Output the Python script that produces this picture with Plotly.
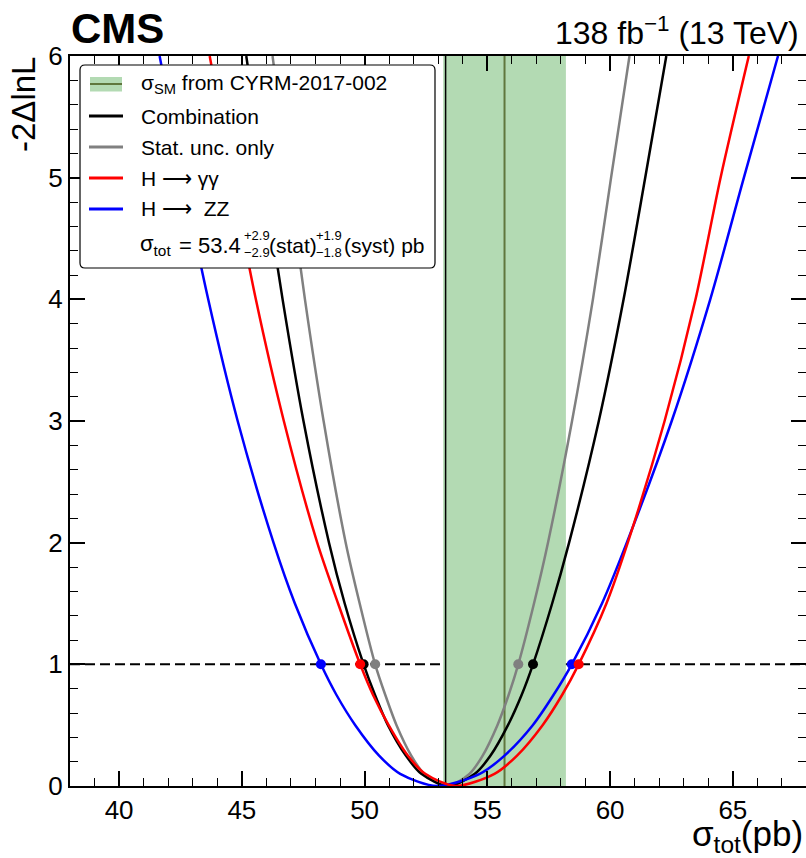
import plotly.graph_objects as go

# ---------------- data ----------------
# -2 Delta lnL levels at which the curve positions were read (left branch, minimum, right branch)
y_levels = [6, 5, 4, 3, 2, 1.5, 1, 0.75, 0.5, 0.25, 0.1, 0,
            0.1, 0.25, 0.5, 0.75, 1, 1.5, 2, 3, 4, 5, 6]

comb_x = [45.18, 45.90, 46.66, 47.51, 48.55, 49.19, 49.96, 50.42, 50.95, 51.68, 52.31, 53.40,
          54.49, 55.13, 55.84, 56.40, 56.86, 57.64, 58.33, 59.54, 60.55, 61.43, 62.29]
stat_x = [46.25, 46.90, 47.57, 48.33, 49.23, 49.80, 50.43, 50.84, 51.30, 51.90, 52.43, 53.35,
          54.27, 54.81, 55.41, 55.87, 56.26, 56.90, 57.47, 58.45, 59.30, 60.04, 60.79]
gg_x   = [43.69, 44.60, 45.57, 46.71, 48.07, 48.92, 49.82, 50.34, 50.98, 51.76, 52.47, 53.70,
          55.29, 56.21, 57.25, 58.05, 58.72, 59.85, 60.72, 62.22, 63.48, 64.50, 65.65]
zz_x   = [41.65, 42.60, 43.63, 44.83, 46.29, 47.16, 48.22, 48.85, 49.62, 50.59, 51.45, 52.95,
          54.69, 55.70, 56.85, 57.70, 58.44, 59.67, 60.68, 62.51, 64.08, 65.45, 66.84]

# 1-sigma crossing level and SM prediction
cross_level = 1
best_fit = 53.3
sm_center = 55.7
sm_lo = 53.2
sm_hi = 58.2

x_range = [38, 67.98]
y_range = [0, 6]

# ---------------- layout geometry (pixels) ----------------
W, H = 806, 858
L, R, T, B = 70, 0, 56, 72
PW, PH = W - L - R, H - T - B

def px(x):
    return (x - L) / PW

def py(y):
    return (H - B - y) / PH

FONT = "Liberation Sans, Arial, Helvetica, sans-serif"

fig = go.Figure()

series = [
    ("Stat. unc. only", stat_x, "#808080"),
    ("Combination", comb_x, "#000000"),
    ("H \u27f6 ZZ", zz_x, "#0000ff"),
    ("H \u27f6 \u03b3\u03b3", gg_x, "#ff0000"),
]

for name, xs, col in series:
    fig.add_trace(go.Scatter(
        x=xs, y=y_levels, mode="lines", line=dict(color=col, width=2.5, shape="spline", smoothing=0.8),
        showlegend=False, hoverinfo="skip"))
    dots_x = [xv for xv, yv in zip(xs, y_levels) if yv == cross_level]
    fig.add_trace(go.Scatter(
        x=dots_x, y=[cross_level] * len(dots_x), mode="markers",
        marker=dict(color=col, size=10), showlegend=False, hoverinfo="skip"))

# invisible trace so the right-hand tick axis is drawn
fig.add_trace(go.Scatter(x=[x_range[0]], y=[y_range[0]], yaxis="y2", mode="markers",
                         marker=dict(opacity=0), showlegend=False, hoverinfo="skip"))

shapes = []
# SM band
shapes.append(dict(type="rect", xref="x", yref="y", x0=sm_lo, x1=sm_hi, y0=y_range[0], y1=y_range[1],
                   fillcolor="#b3dab3", line=dict(width=0), layer="below"))
shapes.append(dict(type="line", xref="x", yref="y", x0=sm_center, x1=sm_center, y0=y_range[0], y1=y_range[1],
                   line=dict(color="#5f773d", width=2), layer="below"))
shapes.append(dict(type="line", xref="x", yref="y", x0=best_fit, x1=best_fit, y0=y_range[0], y1=y_range[1],
                   line=dict(color="black", width=1.5), layer="below"))
shapes.append(dict(type="line", xref="paper", yref="y", x0=0, x1=1, y0=cross_level, y1=cross_level,
                   line=dict(color="black", width=2, dash="10px,5px"), layer="below"))

# Legend box (rounded)
x0, x1, y0, y1, r = 80, 435, 65, 268, 5
def P(x, y):
    return f"{px(x):.5f},{py(y):.5f}"
path = (f"M {P(x0+r, y0)} L {P(x1-r, y0)} Q {P(x1, y0)} {P(x1, y0+r)} "
        f"L {P(x1, y1-r)} Q {P(x1, y1)} {P(x1-r, y1)} L {P(x0+r, y1)} "
        f"Q {P(x0, y1)} {P(x0, y1-r)} L {P(x0, y0+r)} Q {P(x0, y0)} {P(x0+r, y0)} Z")
shapes.append(dict(type="path", xref="paper", yref="paper", path=path, fillcolor="white",
                   line=dict(color="black", width=1.2), layer="above"))

rows = [84, 116, 147, 178, 209, 245]
# legend symbols
shapes.append(dict(type="rect", xref="paper", yref="paper", x0=px(90), x1=px(122), y0=py(91.5), y1=py(77),
                   fillcolor="#b3dab3", line=dict(width=0), layer="above"))
shapes.append(dict(type="line", xref="paper", yref="paper", x0=px(90), x1=px(122), y0=py(84), y1=py(84),
                   line=dict(color="#5f773d", width=2), layer="above"))
leg_items = [("Combination", "#000000"), ("Stat. unc. only", "#808080"),
             ("H \u27f6 \u03b3\u03b3", "#ff0000"), ("H \u27f6  ZZ", "#0000ff")]
for (txt, col), yy in zip(leg_items, rows[1:5]):
    shapes.append(dict(type="line", xref="paper", yref="paper", x0=px(89), x1=px(123), y0=py(yy), y1=py(yy),
                       line=dict(color=col, width=3), layer="above"))

ann = []
def text(x, y, s, size, xanchor="left", yanchor="middle", bold=False, angle=0):
    ann.append(dict(x=px(x), y=py(y), xref="paper", yref="paper", text=(f"<b>{s}</b>" if bold else s),
                    showarrow=False, xanchor=xanchor, yanchor=yanchor, textangle=angle,
                    font=dict(family=FONT, size=size, color="black"), borderpad=0))

text(140, rows[0], "\u03c3<sub>SM</sub> from CYRM-2017-002", 21)
for (txt, col), yy in zip(leg_items, rows[1:5]):
    text(140, yy, txt, 21)
# sigma_tot line with stacked scripts
text(139, rows[5], "\u03c3<sub>tot</sub>", 22)
text(242, rows[5], "= 53.4", 22, xanchor="right")
text(243, 235, "+2.9", 13)
text(243, 253, "\u22122.9", 13)
text(268, rows[5], "(stat)", 21)
text(315, 235, "+1.9", 13)
text(315, 253, "\u22121.8", 13)
text(343, rows[5], "(syst) pb", 21)

# titles
text(70, 29, "CMS", 42, bold=True)
text(800, 31, "138 fb<sup>\u22121</sup> (13 TeV)", 32, xanchor="right")
text(804, 836, "\u03c3<sub>tot</sub>(pb)", 35, xanchor="right")
text(4, 56, "-2\u0394lnL", 33, yanchor="top", angle=-90)

tick_common = dict(showgrid=False, zeroline=False, ticks="inside", ticklen=15, tickwidth=1.5,
                   tickcolor="black", tickfont=dict(size=26, family=FONT))

fig.update_layout(
    width=W, height=H, margin=dict(l=L, r=R, t=T, b=B, pad=0),
    plot_bgcolor="white", paper_bgcolor="white",
    shapes=shapes, annotations=ann, showlegend=False,
    font=dict(family=FONT, color="black"),
    xaxis=dict(range=x_range, showline=True, linecolor="black", linewidth=2, mirror="ticks",
               tick0=40, dtick=5,
               minor=dict(ticks="inside", ticklen=8, dtick=1, tickwidth=1.2, tickcolor="black", showgrid=False),
               **tick_common),
    yaxis=dict(range=y_range, showline=True, linecolor="black", linewidth=2, mirror=False,
               tick0=0, dtick=1,
               minor=dict(ticks="inside", ticklen=8, dtick=0.2, tickwidth=1.2, tickcolor="black", showgrid=False),
               **tick_common),
    yaxis2=dict(range=y_range, overlaying="y", side="right", showline=False, showticklabels=False,
                tick0=0, dtick=1,
                minor=dict(ticks="inside", ticklen=8, dtick=0.2, tickwidth=1.2, tickcolor="black", showgrid=False),
                **tick_common),
)

fig.write_html("out.html")
